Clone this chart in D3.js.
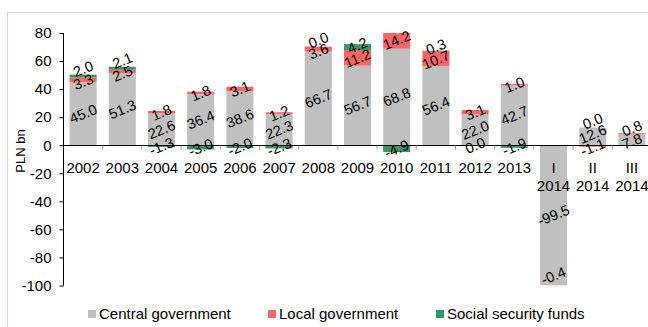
<!DOCTYPE html>
<html>
<head>
<meta charset="utf-8">
<script src="https://cdn.jsdelivr.net/npm/d3@7/dist/d3.min.js"></script>
<style>
  html, body { margin: 0; padding: 0; background: #fff; }
  svg { display: block; font-family: "Liberation Sans", Arial, sans-serif; }
</style>
</head>
<body>
<svg id="chart" width="648" height="327"></svg>
<script>
// Sector balances, PLN bn
const categories = ["2002", "2003", "2004", "2005", "2006", "2007", "2008", "2009",
                    "2010", "2011", "2012", "2013", "I\n2014", "II\n2014", "III\n2014"];
const centralGov = [45.0, 51.3, 22.6, 36.4, 38.6, 22.3, 66.7, 56.7, 68.8, 56.4, 22.0, 42.7, -99.5, 12.6, 7.8];
const localGov   = [3.3, 2.5, 1.8, 1.8, 3.1, 1.2, 3.6, 11.2, 14.2, 10.7, 3.1, 1.0, -0.4, -1.1, 0.8];
const socialFund = [2.0, 2.1, -1.3, -3.0, -2.0, -2.3, 0.0, 4.2, -4.9, 0.3, -0.04, -1.9, null, 0.0, null];
const yTicks = [80, 60, 40, 20, 0, -20, -40, -60, -80, -100];

const seriesDefs = [
  { name: "Central government",    values: centralGov, color: "#C0C0C0" },
  { name: "Local government",      values: localGov,   color: "#FF6666" },
  { name: "Social security funds", values: socialFund, color: "#339966" }
];

const svg = d3.select("#chart");
const W = 648, H = 327;
const plot = { left: 63.5, right: 651.5, top: 33, bottom: 285.5 };

const x = d3.scaleBand()
  .domain(categories)
  .range([plot.left, plot.right])
  .paddingInner(0.31)
  .paddingOuter(0.155);

const y = d3.scaleLinear().domain([-100, 80]).range([plot.bottom, plot.top]);

// outer frame
svg.append("path")
  .attr("d", `M7.5,${H} V12.5 H${W}`)
  .attr("fill", "none")
  .attr("stroke", "#d4d4d4")
  .attr("stroke-width", 1.2);

svg.append("defs").append("clipPath").attr("id", "plotClip")
  .append("rect")
  .attr("x", plot.left).attr("y", plot.top)
  .attr("width", plot.right - plot.left).attr("height", plot.bottom - plot.top);

// diverging stack: positives upward, negatives downward, zeros at top of positive pile
const segments = [];
categories.forEach((cat, i) => {
  let pos = 0, neg = 0;
  seriesDefs.forEach((s, k) => {
    const v = s.values[i];
    if (v === null || v === undefined) return;
    let y0, y1;
    if (v >= 0) { y0 = pos; y1 = pos + v; pos = y1; }
    else { y0 = neg; y1 = neg + v; neg = y1; }
    segments.push({ cat, i, k, v, y0, y1, color: s.color });
  });
});

const barG = svg.append("g").attr("clip-path", "url(#plotClip)");
barG.selectAll("rect")
  .data(segments)
  .join("rect")
  .attr("x", d => x(d.cat))
  .attr("width", x.bandwidth())
  .attr("y", d => y(Math.max(d.y0, d.y1)))
  .attr("height", d => Math.abs(y(d.y0) - y(d.y1)))
  .attr("fill", d => d.color);

// axes
const yAxis = d3.axisLeft(y).tickValues(yTicks).tickSize(4).tickPadding(8)
  .tickFormat(d3.format("d"));
const yg = svg.append("g").attr("transform", `translate(${plot.left},0)`).call(yAxis);
yg.select(".domain").attr("stroke", "#000").attr("d", `M0,${plot.top}V${plot.bottom}`);
yg.selectAll(".tick line").attr("stroke", "#000");
yg.selectAll(".tick text")
  .attr("font-size", 15)
  .attr("fill", "#000")
  .text(d => d < 0 ? "-" + Math.abs(d) : String(d));

// zero line
const y0 = Math.round(y(0)) + 0.5;
svg.append("line")
  .attr("x1", plot.left).attr("x2", W)
  .attr("y1", y0).attr("y2", y0)
  .attr("stroke", "#000");

// category separators under the zero line
const step = x.step();
const bounds = d3.range(categories.length + 1).map(j => plot.left + j * step);
svg.append("g").selectAll("line")
  .data(bounds.slice(1))
  .join("line")
  .attr("x1", d => d).attr("x2", d => d)
  .attr("y1", y0).attr("y2", y0 + 4)
  .attr("stroke", "#999");

// category labels
const catG = svg.append("g")
  .attr("font-size", 15)
  .attr("text-anchor", "middle")
  .attr("fill", "#000");
categories.forEach(c => {
  const lines = c.split("\n");
  const t = catG.append("text").attr("x", x(c) + x.bandwidth() / 2).attr("y", 172.5);
  lines.forEach((ln, j) => {
    t.append("tspan")
      .attr("x", x(c) + x.bandwidth() / 2)
      .attr("dy", j === 0 ? 0 : 18)
      .text(ln);
  });
});

// axis title
svg.append("text")
  .attr("transform", `translate(25,151) rotate(-90)`)
  .attr("text-anchor", "middle")
  .attr("font-size", 13)
  .text("PLN bn");

// value labels, centred on segments and spread apart when they collide
const fmt = v => {
  const s = Math.abs(v).toFixed(1);
  return (v < 0 && s !== "0.0") ? "-" + s : s;
};
const labels = segments.map(d => ({
  cat: d.cat, v: d.v,
  cx: x(d.cat) + x.bandwidth() / 2,
  cy: y((d.y0 + d.y1) / 2)
}));
const gap = 13;
d3.group(labels, d => d.cat).forEach(list => {
  list.sort((a, b) => a.cy - b.cy);
  for (let pass = 0; pass < 6; pass++) {
    for (let j = list.length - 1; j > 0; j--) {
      const d = gap - (list[j].cy - list[j - 1].cy);
      if (d > 0) { list[j - 1].cy -= d * 0.8; list[j].cy += d * 0.2; }
    }
  }
  list.forEach(l => { l.cy = Math.max(plot.top + 7, Math.min(plot.bottom - 10, l.cy)); });
});

svg.append("g")
  .attr("font-size", 14.5)
  .attr("text-anchor", "middle")
  .attr("fill", "#000")
  .selectAll("text")
  .data(labels)
  .join("text")
  .attr("transform", d => `translate(${d.cx},${d.cy}) rotate(-22)`)
  .attr("dy", "0.36em")
  .text(d => fmt(d.v));

// legend
const legendPos = [
  { sq: 88, tx: 99 },
  { sq: 268, tx: 279 },
  { sq: 436, tx: 447 }
];
const lg = svg.append("g");
seriesDefs.forEach((s, k) => {
  lg.append("rect")
    .attr("x", legendPos[k].sq).attr("y", 310)
    .attr("width", 8).attr("height", 8)
    .attr("fill", s.color);
  lg.append("text")
    .attr("x", legendPos[k].tx).attr("y", 318.5)
    .attr("font-size", 15)
    .text(s.name);
});
</script>
</body>
</html>
